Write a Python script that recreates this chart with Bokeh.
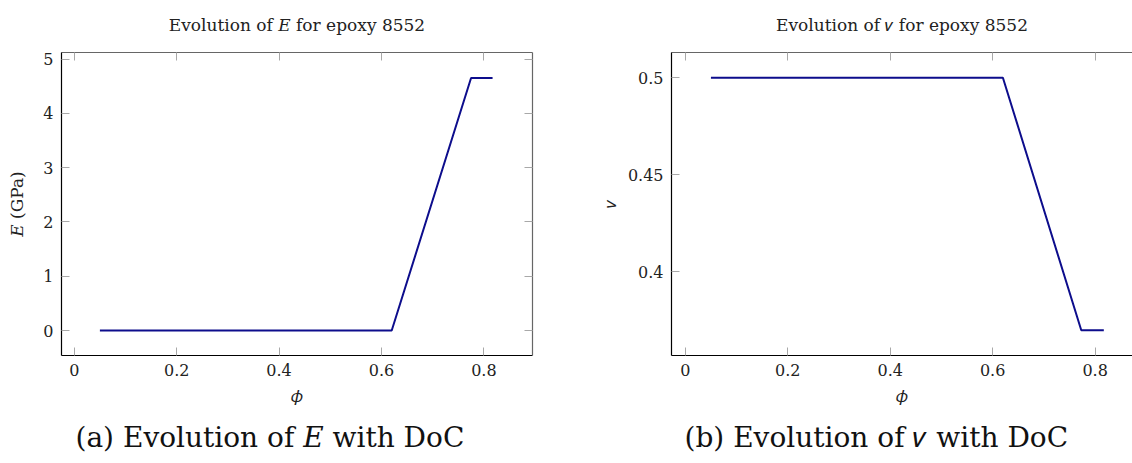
from bokeh.plotting import figure
from bokeh.layouts import row
from bokeh.models import LinearAxis, FixedTicker, CustomJSTickFormatter, Range1d, Title
from bokeh.embed import file_html
from bokeh.resources import INLINE

# ---- data ----
phi_E = [0.05, 0.62, 0.775, 0.817]
E_gpa = [0.0, 0.0, 4.65, 4.65]
phi_nu = [0.05, 0.62, 0.773, 0.817]
nu_vals = [0.5, 0.5, 0.37, 0.37]
x_ticks = [0, 0.2, 0.4, 0.6, 0.8]
E_ticks = [0, 1, 2, 3, 4, 5]
nu_ticks = [0.4, 0.45, 0.5]

FONT = "DejaVu Serif"
LINE = "#0d0d8c"
TICK = "#a8a8a8"


def fmt():
    return CustomJSTickFormatter(code="return String(parseFloat(tick.toFixed(3)));")


def style(ax, ticks, labels, line_color):
    ax.ticker = FixedTicker(ticks=ticks)
    ax.major_tick_in = 8
    ax.major_tick_out = 0
    ax.major_tick_line_color = TICK
    ax.major_tick_line_width = 1
    ax.minor_tick_line_color = None
    ax.axis_line_color = line_color
    ax.axis_line_width = 1.2
    ax.axis_label_text_font = FONT
    ax.axis_label_text_font_size = "17px"
    ax.axis_label_text_font_style = "normal"
    ax.axis_label_text_color = "#222222"
    if labels:
        ax.formatter = fmt()
        ax.major_label_text_font = FONT
        ax.major_label_text_font_size = "16px"
        ax.major_label_text_color = "#222222"
    else:
        ax.formatter = CustomJSTickFormatter(code="return '';")
        ax.major_label_text_color = None
        ax.major_label_text_font_size = "1px"
        ax.major_label_standoff = 0


def make(width, xr, yr, yticks, title, ylabel, caption, bl, br, cap_off,
         ylab_standoff, right_axis, xs, ys):
    p = figure(width=width, height=463, x_range=Range1d(*xr), y_range=Range1d(*yr),
               output_backend="svg", toolbar_location=None, title=None,
               x_axis_location=None, y_axis_location=None,
               min_border_left=bl, min_border_right=br,
               min_border_top=52, min_border_bottom=108)
    p.grid.visible = False
    p.outline_line_color = None
    p.background_fill_color = "white"
    p.border_fill_color = "white"

    bx = LinearAxis(axis_label="𝜙")
    style(bx, x_ticks, True, "black")
    bx.major_label_standoff = 8
    bx.axis_label_standoff = 7
    p.add_layout(bx, "below")

    ly = LinearAxis(axis_label=ylabel)
    style(ly, yticks, True, "black")
    ly.major_label_standoff = 8
    ly.axis_label_standoff = ylab_standoff
    p.add_layout(ly, "left")

    # top axis: inward ticks + the plot title as its label
    tx = LinearAxis(axis_label=title)
    style(tx, x_ticks, False, "#666666")
    tx.axis_label_standoff = 18
    p.add_layout(tx, "above")

    if right_axis:
        ry = LinearAxis()
        style(ry, yticks, False, "#666666")
        p.add_layout(ry, "right")

    cap = Title(text=caption, align="left", offset=cap_off, text_font=FONT,
                text_font_size="28px", text_font_style="normal", text_color="#111111",
                standoff=20)
    p.add_layout(cap, "below")

    p.line(xs, ys, line_color=LINE, line_width=2)
    return p


p1 = make(592, (-0.025, 0.895), (-0.46, 5.12), E_ticks,
          "Evolution of 𝐸 for epoxy 8552", "𝐸 (GPa)", "(a) Evolution of 𝐸 with DoC",
          61, 60, 14, 13, True, phi_E, E_gpa)
p2 = make(540, (-0.027, 0.873), (0.357, 0.513), nu_ticks,
          "Evolution of 𝜈 for epoxy 8552", "𝜈", "(b) Evolution of 𝜈 with DoC",
          79, 0, 13, 5, False, phi_nu, nu_vals)

layout = row(p1, p2, spacing=0)
open("out.html", "w").write(file_html(layout, INLINE))
